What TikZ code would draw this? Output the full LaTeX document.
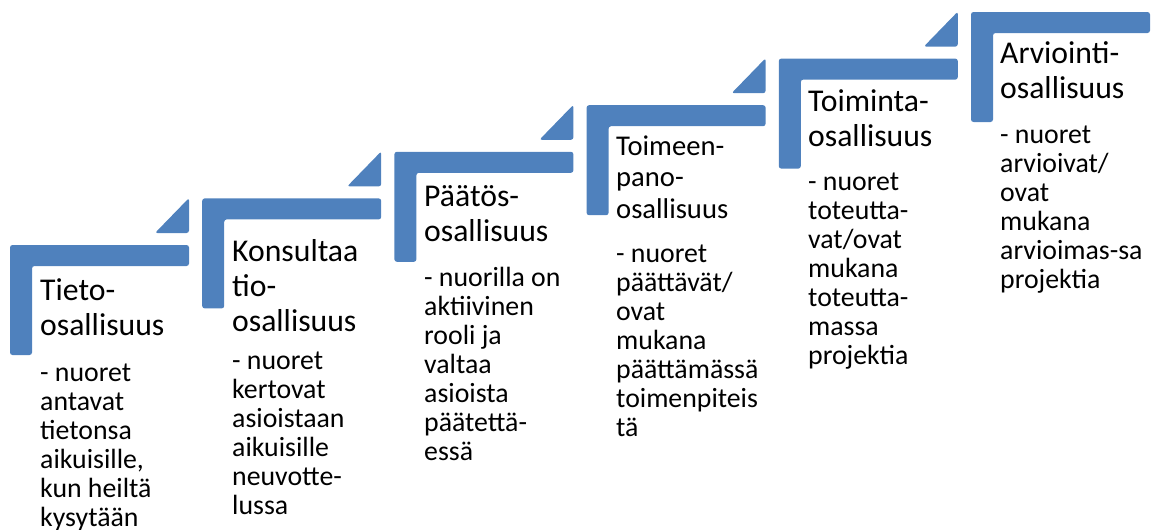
\documentclass[tikz,border=0pt]{standalone}
\usepackage{fontspec}
\setmainfont{Carlito}
\definecolor{stepblue}{HTML}{4F81BD}
\tikzset{
  stepshape/.style={fill=stepblue, draw=none, rounded corners=2.5pt},
  titletext/.style={anchor=base west, inner sep=0pt, font=\fontsize{31.7}{35}\selectfont},
  smalltitle/.style={anchor=base west, inner sep=0pt, font=\fontsize{28.6}{31.7}\selectfont},
  desctext/.style={anchor=base west, inner sep=0pt, font=\fontsize{27.8}{29}\selectfont},
}
\newcommand{\mysteplines}[1]{\parbox[t]{170pt}{\raggedright #1}}
\begin{document}
\begin{tikzpicture}[x=1pt,y=1pt]
\useasboundingbox (0,0) rectangle (1152,-530);
% L-shaped steps
\foreach \i in {0,...,5}{
  \pgfmathsetmacro\xo{10+192.2*\i}
  \pgfmathsetmacro\yo{-245+46.6*\i}
  \fill[stepshape] (\xo,\yo) -- ++(179,0) -- ++(0,-21) -- ++(-157,0) -- ++(0,-89) -- ++(-22,0) -- cycle;
}
% small triangles
\foreach \i in {0,...,4}{
  \pgfmathsetmacro\xo{10+192.2*\i}
  \pgfmathsetmacro\yo{-245+46.6*\i}
  \fill[stepshape] (\xo+145,\yo+12) -- (\xo+179,\yo+12) -- (\xo+179,\yo+47) -- cycle;
}
% titles
\node[titletext] (t1) at (40,-300.7) {\mysteplines{Tieto-\\osallisuus}};
\node[titletext] (t2) at (232,-261.7) {\mysteplines{Konsultaa\\tio-\\osallisuus}};
\node[titletext] (t3) at (424,-206.5) {\mysteplines{Päätös-\\osallisuus}};
\node[smalltitle] (t4) at (616,-155) {\mysteplines{Toimeen-\\pano-\\osallisuus}};
\node[titletext] (t5) at (808,-111) {\mysteplines{Toiminta-\\osallisuus}};
\node[titletext] (t6) at (1000,-63.3) {\mysteplines{Arviointi-\\osallisuus}};
% descriptions
\node[desctext] (d1) at (40,-381) {\mysteplines{- nuoret\\antavat\\tietonsa\\aikuisille,\\kun heiltä\\kysytään}};
\node[desctext] (d2) at (232,-369) {\mysteplines{- nuoret\\kertovat\\asioistaan\\aikuisille\\neuvotte-\\lussa}};
\node[desctext] (d3) at (424,-286.7) {\mysteplines{- nuorilla on\\aktiivinen\\rooli ja\\valtaa\\asioista\\päätettä-\\essä}};
\node[desctext] (d4) at (616,-262) {\mysteplines{- nuoret\\päättävät/\\ovat\\mukana\\päättämässä\\toimenpiteis\\tä}};
\node[desctext] (d5) at (808,-190) {\mysteplines{- nuoret\\toteutta-\\vat/ovat\\mukana\\toteutta-\\massa\\projektia}};
\node[desctext] (d6) at (1000,-143) {\mysteplines{- nuoret\\arvioivat/\\ovat\\mukana\\arvioimas-sa\\projektia}};
\end{tikzpicture}
\end{document}
